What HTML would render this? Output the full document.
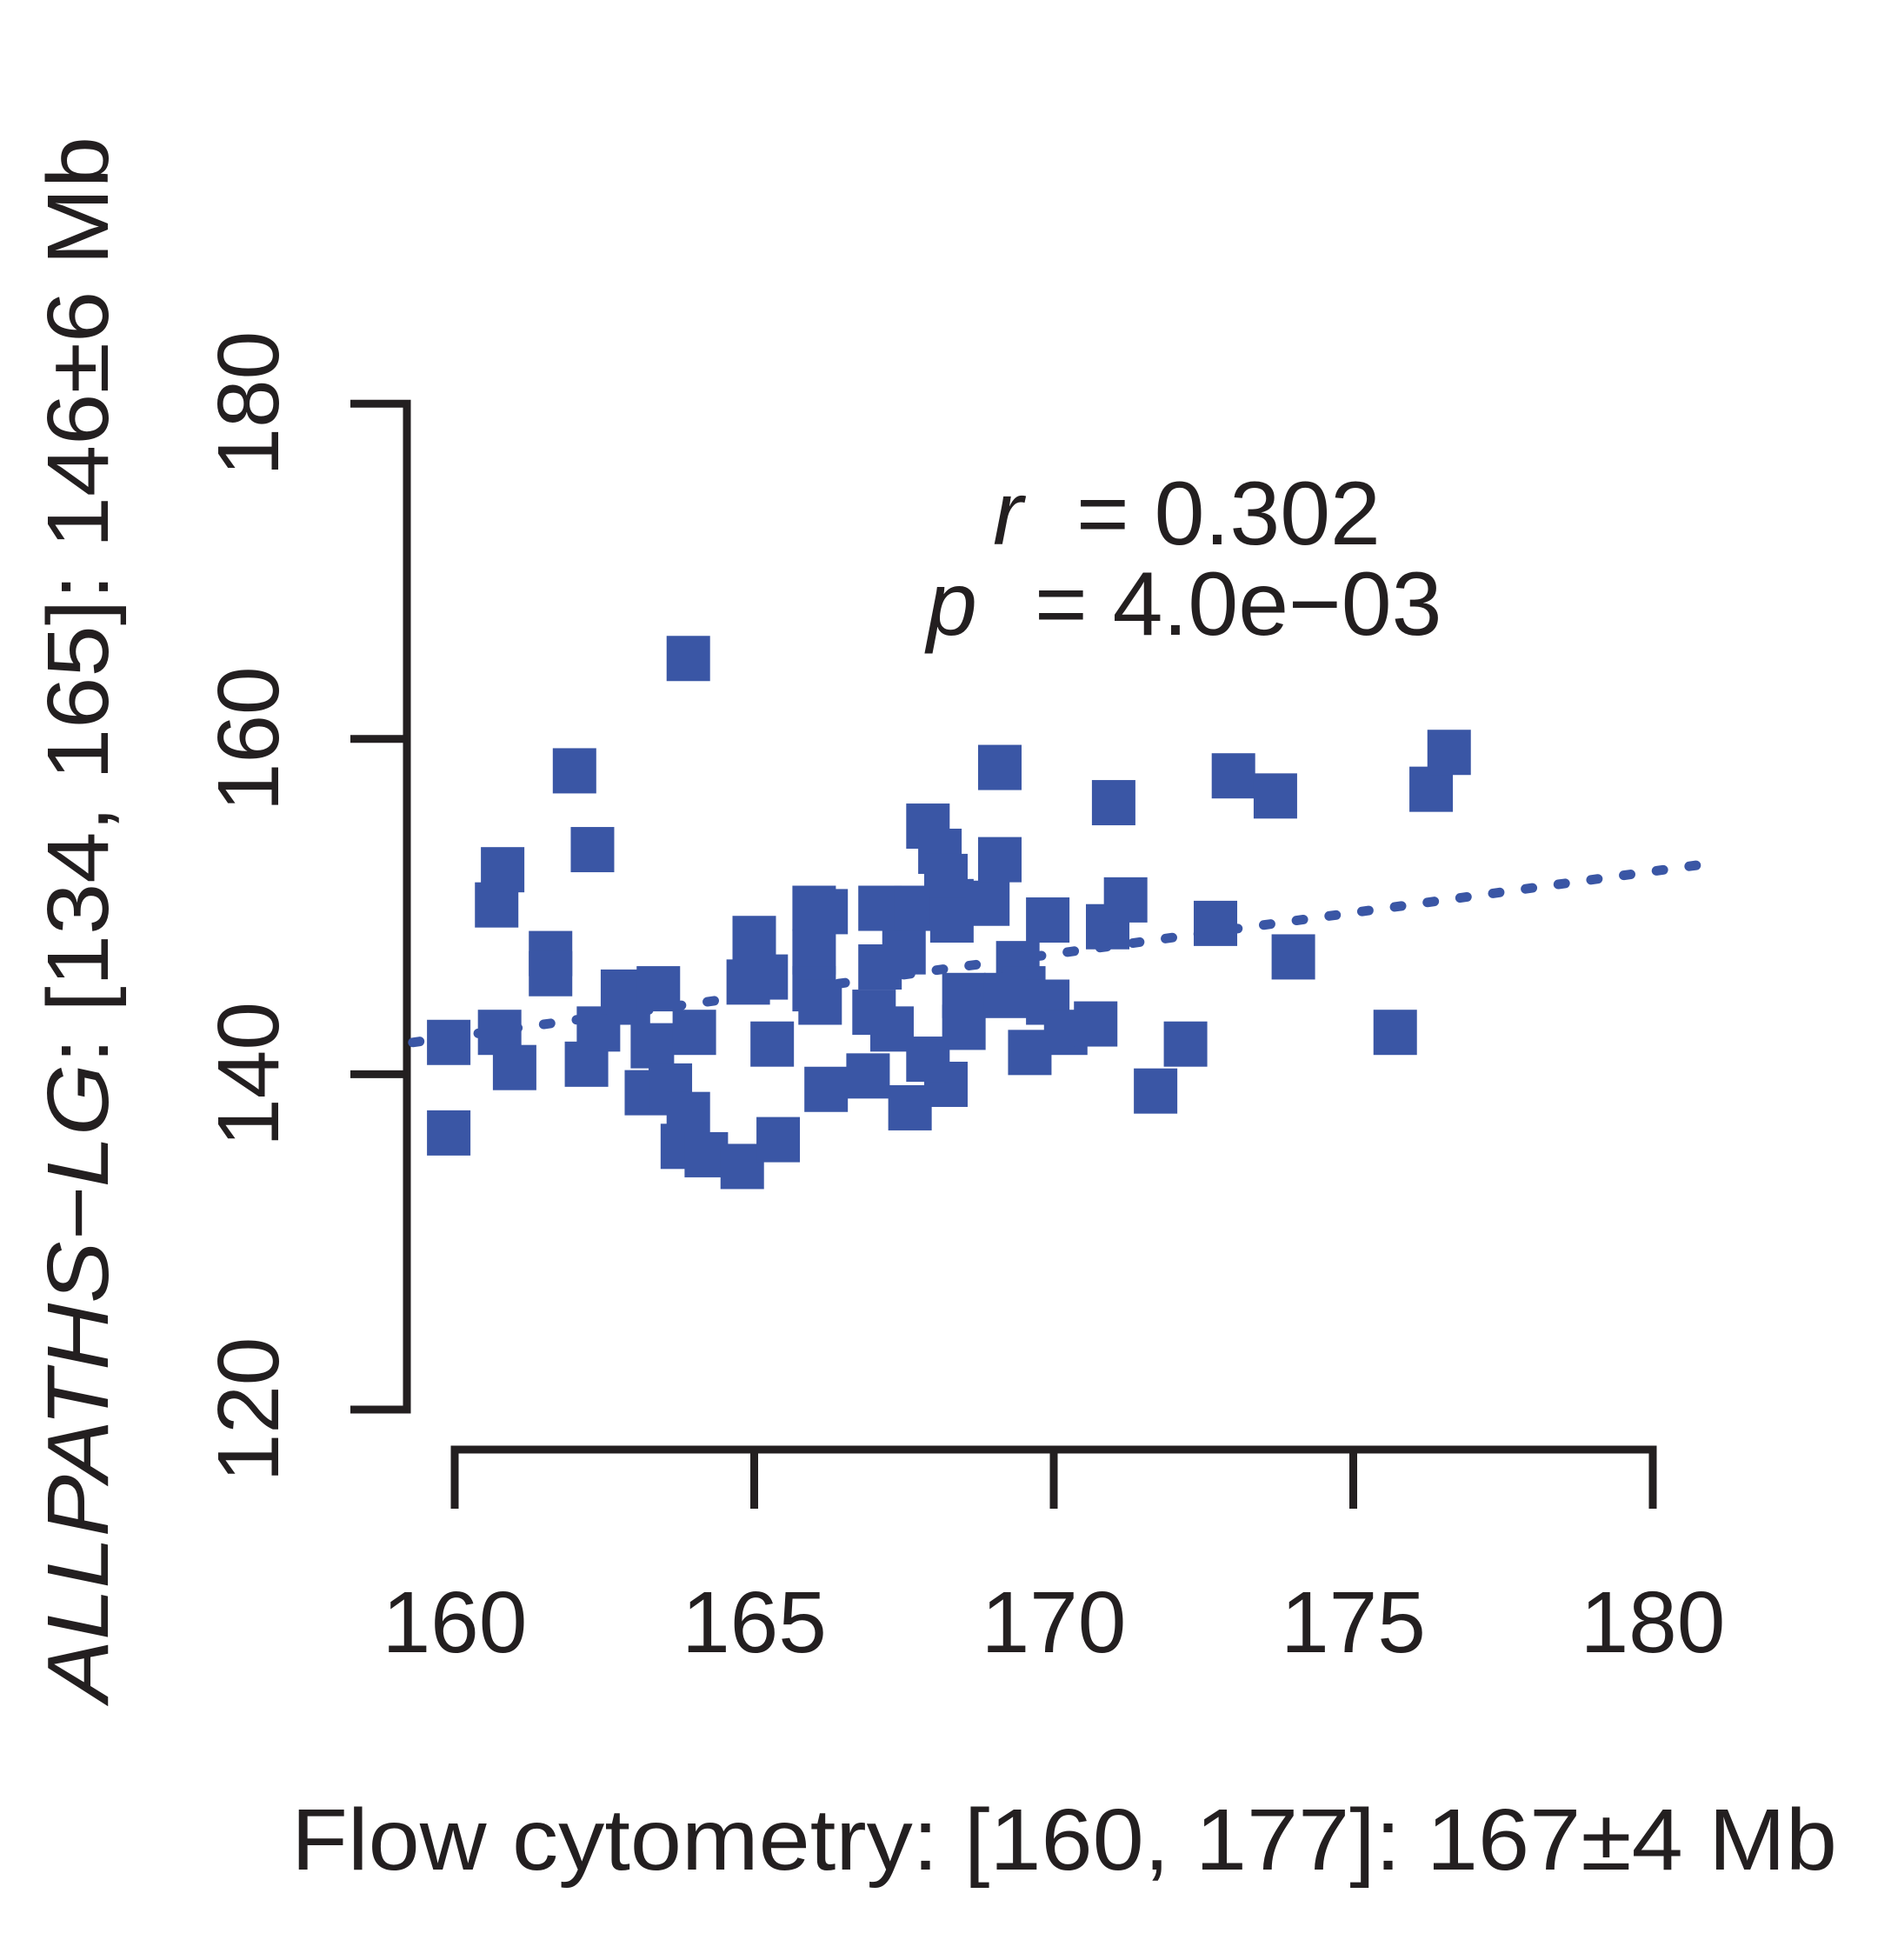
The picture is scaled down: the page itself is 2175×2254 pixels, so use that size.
<!DOCTYPE html>
<html><head><meta charset="utf-8"><style>
html,body{margin:0;padding:0;background:#fff;}
svg{display:block;font-family:"Liberation Sans",Arial,sans-serif;}
</style></head><body>
<svg id="chart" width="2175" height="2254" viewBox="0 0 2175 2254" xmlns="http://www.w3.org/2000/svg">
<g id="axes"></g>
<line id="fit" stroke="#3a56a5" stroke-width="11" stroke-linecap="round" stroke-dasharray="8 30"/>
<g id="pts"></g>
<text transform="translate(124,1057) rotate(-90)" text-anchor="middle" font-size="100" fill="#231f20" textLength="1800" lengthAdjust="spacingAndGlyphs"><tspan font-style="italic">ALLPATHS−LG</tspan>: [134, 165]: 146±6 Mb</text>
<text x="1224" y="2150" text-anchor="middle" font-size="100" fill="#231f20" textLength="1778" lengthAdjust="spacingAndGlyphs">Flow cytometry: [160, 177]: 167±4 Mb</text>
<text y="626" font-size="104" fill="#231f20"><tspan x="1142" font-style="italic">r</tspan><tspan x="1238">= 0.302</tspan></text>
<text y="730" font-size="104" fill="#231f20"><tspan x="1066" font-style="italic">p</tspan><tspan x="1190">= 4.0e−03</tspan></text>
</svg>
<script>
const xs=[159.9,159.9,160.75,161.0,160.7,160.8,162.0,162.3,161.6,161.6,162.2,162.4,162.8,162.9,163.4,163.3,163.2,163.6,163.9,163.8,164.2,164.8,165.4,163.9,164.0,164.9,165.0,165.2,165.3,166.0,166.2,166.0,166.0,166.1,166.2,166.9,167.0,167.3,167.1,167.5,167.1,167.7,167.9,168.1,168.2,168.3,168.3,168.9,169.1,169.1,167.6,168.2,167.9,168.5,168.5,169.4,169.5,169.2,169.6,169.9,169.9,170.2,170.7,170.9,171.2,171.0,171.7,172.2,172.7,173.0,173.7,174.0,175.7,176.3,176.6];
const ys=[141.9,136.5,142.5,140.4,150.1,152.2,158.1,153.4,147.2,146.0,140.6,142.7,144.9,144.3,145.1,141.7,138.9,139.3,137.6,135.7,135.2,134.5,136.1,164.8,142.5,145.5,148.1,145.8,141.8,149.9,149.7,147.3,145.1,144.3,139.1,139.9,143.7,142.7,146.4,147.3,149.9,149.9,154.8,153.3,151.8,150.3,149.2,150.2,158.3,152.8,138.0,139.4,140.9,144.7,142.8,146.6,145.1,144.7,141.3,144.3,149.2,142.5,143.0,148.8,150.4,156.2,139.0,141.8,149.0,157.8,156.6,147.0,142.5,157.0,159.2];
const xTicks=[160,165,170,175,180];
const yTicks=[120,140,160,180];
const fitX=[159.3,180.8];
const fitY=[141.9,152.5];
const X=v=>523+(v-160)*68.9;
const Y=v=>1621-(v-120)*19.28;
const NS='http://www.w3.org/2000/svg';
function mk(tag,attrs,parent){const e=document.createElementNS(NS,tag);for(const k in attrs)e.setAttribute(k,attrs[k]);parent.appendChild(e);return e;}
const ax=document.getElementById('axes');
const stroke={stroke:'#231f20','stroke-width':9,fill:'none'};
let yl=mk('path',Object.assign({d:`M403 ${Y(180)} H468 V${Y(120)} H403`},stroke),ax);


yTicks.forEach(t=>{
  if(t!==120&&t!==180){let l=mk('line',Object.assign({x1:403,x2:468,y1:Y(t),y2:Y(t)},stroke),ax);
  
  }
  let tx=mk('text',{transform:`translate(320,${Y(t)}) rotate(-90)`,'text-anchor':'middle','font-size':100,fill:'#231f20'},ax);
  tx.textContent=t;
  
  
});
let xl=mk('path',Object.assign({d:`M${X(160)} 1735 V1667 H${X(180)} V1735`},stroke),ax);


xTicks.forEach(t=>{
  if(t!==160&&t!==180){let l=mk('line',Object.assign({x1:X(t),x2:X(t),y1:1667,y2:1735},stroke),ax);
  
  }
  let tx=mk('text',{x:X(t),y:1900,'text-anchor':'middle','font-size':100,fill:'#231f20'},ax);
  tx.textContent=t;
  
  
});
const f=document.getElementById('fit');
f.setAttribute('x1',X(fitX[0]));f.setAttribute('y1',Y(fitY[0]));
f.setAttribute('x2',X(fitX[1]));f.setAttribute('y2',Y(fitY[1]));
const pg=document.getElementById('pts');
xs.forEach((v,i)=>{
  let r=mk('rect',{x:X(v)-25,y:Y(ys[i])-26,width:50,height:52,fill:'#3a56a5'},pg);
  
  
});
</script>
</body></html>
